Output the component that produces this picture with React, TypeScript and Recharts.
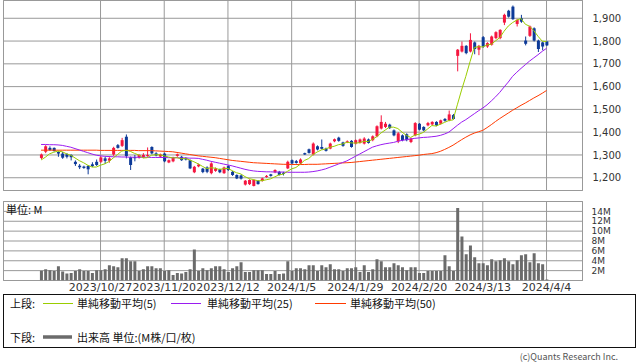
import React from 'react';
import { ComposedChart, Bar, Line, XAxis, YAxis, CartesianGrid, ReferenceArea } from 'recharts';

const tickIndex = [14, 29, 44, 59, 74, 89, 104, 119];
const tickLabels = ['2023/10/27', '2023/11/20', '2023/12/12', '2024/1/5', '2024/1/29', '2024/2/20', '2024/3/13', '2024/4/4'];

const opens = [1287,1314,1331,1331,1313,1306,1303,1300,1270,1253,1249,1252,1259,1270,1270,1285,1275,1302,1343,1340,1380,1290,1290,1288,1290,1296,1335,1307,1293,1306,1267,1272,1296,1292,1287,1277,1224,1250,1240,1245,1220,1230,1237,1220,1251,1226,1212,1210,1170,1172,1164,1186,1186,1204,1215,1224,1226,1222,1241,1277,1273,1263,1308,1325,1302,1338,1335,1328,1328,1360,1376,1355,1355,1362,1350,1353,1350,1368,1365,1382,1416,1423,1433,1408,1360,1386,1391,1357,1386,1437,1423,1430,1434,1445,1437,1458,1452,1475,1735,1754,1779,1754,1794,1762,1817,1776,1784,1813,1813,1881,1933,1951,1875,1900,1802,1823,1856,1802,1794,1798];
const highs = [1306,1343,1338,1333,1316,1313,1308,1303,1276,1260,1253,1256,1268,1280,1294,1292,1290,1336,1348,1375,1390,1293,1300,1303,1308,1333,1338,1312,1306,1310,1280,1292,1306,1296,1290,1280,1252,1262,1243,1250,1268,1245,1240,1249,1255,1230,1215,1214,1190,1193,1193,1190,1200,1212,1217,1237,1230,1226,1275,1280,1278,1285,1310,1328,1355,1342,1368,1332,1354,1372,1380,1358,1364,1365,1368,1372,1378,1372,1386,1430,1474,1445,1437,1412,1400,1390,1395,1376,1444,1440,1426,1445,1448,1448,1455,1462,1495,1480,1765,1798,1782,1834,1798,1783,1822,1795,1824,1843,1852,1920,1937,1956,1896,1915,1820,1868,1860,1806,1797,1800];
const lows = [1282,1308,1318,1315,1292,1283,1285,1276,1252,1238,1239,1215,1247,1252,1265,1260,1266,1296,1328,1335,1285,1234,1272,1284,1286,1292,1303,1294,1290,1268,1264,1268,1292,1274,1276,1238,1220,1246,1220,1220,1215,1226,1220,1217,1230,1208,1194,1192,1166,1168,1162,1170,1183,1200,1205,1220,1210,1210,1238,1260,1262,1260,1300,1306,1298,1320,1324,1315,1325,1356,1358,1336,1352,1332,1346,1350,1346,1350,1360,1378,1412,1418,1414,1382,1352,1360,1360,1352,1382,1408,1404,1426,1430,1426,1433,1446,1448,1455,1667,1750,1742,1750,1742,1738,1770,1770,1780,1808,1808,1870,1903,1893,1864,1880,1781,1818,1798,1752,1760,1778];
const closes = [1302,1338,1322,1317,1306,1288,1292,1290,1260,1246,1243,1237,1251,1256,1289,1274,1285,1331,1331,1365,1295,1256,1286,1300,1300,1300,1307,1298,1302,1272,1277,1287,1303,1277,1280,1241,1248,1258,1225,1226,1263,1240,1224,1245,1234,1212,1197,1196,1187,1190,1190,1172,1197,1208,1208,1234,1212,1217,1270,1263,1265,1280,1302,1309,1350,1324,1327,1318,1350,1369,1362,1340,1360,1335,1365,1368,1372,1353,1382,1426,1445,1437,1418,1386,1395,1365,1365,1372,1440,1411,1408,1440,1445,1430,1452,1450,1478,1458,1762,1779,1747,1805,1765,1779,1776,1791,1820,1839,1849,1915,1907,1896,1893,1885,1788,1864,1802,1765,1776,1781];
const ma5 = [1278,1290,1305,1312,1317,1314,1305,1299,1287,1275,1266,1255,1247,1247,1255,1261,1271,1287,1302,1317,1321,1316,1307,1300,1287,1288,1299,1301,1301,1296,1291,1287,1288,1283,1285,1278,1270,1261,1250,1240,1244,1242,1236,1240,1241,1231,1222,1217,1205,1196,1192,1187,1187,1191,1195,1204,1212,1216,1228,1239,1245,1259,1276,1284,1301,1313,1322,1326,1334,1338,1345,1348,1356,1353,1352,1354,1360,1359,1368,1380,1396,1409,1422,1422,1416,1400,1386,1377,1387,1391,1399,1414,1429,1427,1435,1443,1451,1454,1520,1585,1645,1710,1772,1775,1774,1783,1786,1801,1815,1843,1866,1881,1892,1899,1874,1865,1846,1821,1799,1798];
const ma25 = [1346,1346,1345,1345,1344,1342,1338,1334,1328,1322,1316,1310,1304,1299,1296,1294,1293,1292,1292,1291,1291,1290,1290,1290,1290,1290,1289,1289,1289,1289,1288,1288,1288,1287,1287,1286,1286,1285,1281,1277,1272,1268,1264,1260,1256,1252,1247,1242,1237,1233,1230,1228,1227,1226,1226,1225,1225,1225,1224,1224,1224,1224,1224,1225,1227,1230,1234,1239,1246,1253,1260,1267,1274,1284,1294,1304,1314,1324,1334,1340,1345,1349,1352,1355,1360,1364,1367,1370,1373,1375,1377,1378,1380,1382,1386,1392,1400,1415,1430,1444,1455,1468,1481,1494,1506,1520,1537,1555,1575,1598,1620,1645,1663,1680,1696,1712,1726,1740,1755,1768];
const ma50 = [1321,1321,1321,1321,1321,1321,1321,1321,1321,1321,1321,1321,1321,1321,1320,1320,1320,1320,1320,1320,1320,1320,1320,1319,1319,1319,1319,1318,1317,1316,1315,1314,1311,1308,1305,1302,1299,1296,1294,1292,1290,1288,1285,1282,1279,1276,1274,1272,1270,1268,1266,1265,1264,1263,1262,1261,1260,1259,1259,1258,1258,1258,1258,1259,1259,1259,1260,1261,1262,1263,1264,1265,1266,1267,1269,1271,1273,1275,1277,1279,1281,1283,1285,1287,1289,1291,1293,1295,1297,1299,1302,1304,1306,1310,1316,1324,1333,1343,1355,1367,1378,1388,1396,1402,1408,1420,1433,1447,1460,1472,1484,1496,1507,1518,1528,1539,1550,1560,1571,1583];
const volumes = [2.0,2.3,2.1,1.9,2.9,1.8,1.4,1.5,1.9,2.3,1.9,1.9,1.5,2.1,2.1,2.3,3.1,2.9,2.7,4.5,4.5,3.9,3.9,1.9,2.3,2.9,2.9,2.5,2.5,1.9,2.1,1.1,1.5,1.4,1.7,2.3,6.3,1.9,2.5,2.1,2.5,2.9,2.9,2.3,1.7,2.5,2.9,3.7,1.7,1.7,2.1,2.1,2.1,1.3,1.3,1.9,1.3,1.4,3.9,1.9,2.5,2.5,2.3,3.1,3.1,1.9,3.1,2.7,3.3,2.3,2.3,1.9,2.5,2.5,2.7,1.7,3.1,1.7,2.3,4.3,3.9,2.7,2.7,3.5,3.1,2.7,2.1,2.7,2.7,1.5,1.5,1.9,1.9,1.9,1.9,5.1,2.9,1.9,14.7,8.9,5.3,7.1,4.7,3.5,3.5,3.1,4.3,3.9,4.1,4.5,3.9,3.3,4.1,5.1,5.3,3.7,5.5,3.5,3.3,0.2];

const priceTicks = [1200, 1300, 1400, 1500, 1600, 1700, 1800, 1900];
const volumeTicks = [2, 4, 6, 8, 10, 12, 14];

const X_MIN = -8.84;
const X_MAX = 127.47;
const P_MIN = 1144;
const P_MAX = 1978;
const V_MAX = 16;

const RED = '#f5163f';
const BLUE = '#0d3a98';
const GRID = '#999999';
const FONT = '"DejaVu Sans", Verdana, sans-serif';
const JP = '"Noto Sans CJK JP", sans-serif';

const data = closes.map((c, i) => ({
  i,
  o: opens[i],
  h: highs[i],
  l: lows[i],
  c,
  ma5: ma5[i],
  ma25: ma25[i],
  ma50: ma50[i],
  v: volumes[i],
}));

const Candle = (props: any) => {
  const { x, y, width, height, payload } = props;
  if (!payload || height == null) return null;
  const { o, h, l, c } = payload;
  const up = c >= o;
  const color = up ? RED : BLUE;
  const ratio = h > l ? height / (h - l) : 0;
  const top = y + (h - Math.max(o, c)) * ratio;
  const bh = Math.max(1, Math.abs(o - c) * ratio);
  const cx = x + width / 2;
  return (
    <g>
      <line x1={cx} x2={cx} y1={y} y2={y + height} stroke={color} strokeWidth={1} />
      <rect x={x} y={top} width={width} height={bh} fill={color} />
    </g>
  );
};

const fmtPrice = (v: number) => v.toLocaleString('en-US');
const fmtDate = (v: number) => {
  const k = tickIndex.indexOf(v);
  return k >= 0 ? tickLabels[k] : '';
};

export default function App() {
  return (
    <div style={{ position: 'absolute', left: 0, top: 0, width: 638, height: 362, background: '#fff', overflow: 'hidden' }}>
      <div style={{ position: 'absolute', left: 0, top: 0 }}>
        <ComposedChart width={638} height={191} data={data} margin={{ top: 0.5, right: 0, left: 3.5, bottom: 0.5 }}>
          <CartesianGrid stroke={GRID} strokeWidth={1} />
          <XAxis type="number" dataKey="i" domain={[X_MIN, X_MAX]} ticks={tickIndex} allowDataOverflow hide />
          <YAxis
            orientation="right"
            width={55.5}
            domain={[P_MIN, P_MAX]}
            ticks={priceTicks}
            interval={0}
            allowDataOverflow
            axisLine={false}
            tickLine={false}
            tickSize={0}
            tickMargin={10}
            tickFormatter={fmtPrice}
            tick={{ fontSize: 10, fill: '#333', fontFamily: FONT }}
          />
          <ReferenceArea x1={X_MIN} x2={X_MAX} y1={P_MIN} y2={P_MAX} fill="none" stroke={GRID} strokeWidth={1} ifOverflow="visible" />
          <Line dataKey="ma50" stroke="#ff3a00" strokeWidth={1} dot={false} isAnimationActive={false} />
          <Line dataKey="ma25" stroke="#9a1cf0" strokeWidth={1} dot={false} isAnimationActive={false} />
          <Line dataKey="ma5" stroke="#9acd00" strokeWidth={1} dot={false} isAnimationActive={false} />
          <Bar dataKey={(d: any) => [d.l, d.h]} barSize={3} shape={<Candle />} isAnimationActive={false} />
        </ComposedChart>
      </div>
      <div style={{ position: 'absolute', left: 0, top: 191 }}>
        <ComposedChart width={638} height={109} data={data} margin={{ top: 10.5, right: 0, left: 3.5, bottom: 0 }}>
          <CartesianGrid stroke={GRID} strokeWidth={1} />
          <XAxis
            type="number"
            dataKey="i"
            domain={[X_MIN, X_MAX]}
            ticks={tickIndex}
            allowDataOverflow
            height={19.5}
            axisLine={false}
            tickLine={false}
            tickSize={0}
            tickMargin={2.5}
            tickFormatter={fmtDate}
            tick={{ fontSize: 11, fill: '#333', fontFamily: FONT }}
            interval={0}
          />
          <YAxis
            orientation="right"
            width={55.5}
            domain={[0, V_MAX]}
            ticks={volumeTicks}
            interval={0}
            allowDataOverflow
            axisLine={false}
            tickLine={false}
            tickSize={0}
            tickMargin={9}
            tickFormatter={(v: number) => `${v}M`}
            tick={{ fontSize: 9, fill: '#333', fontFamily: FONT }}
          />
          <ReferenceArea x1={X_MIN} x2={X_MAX} y1={0} y2={V_MAX} fill="none" stroke={GRID} strokeWidth={1} ifOverflow="visible" />
          <Bar dataKey="v" barSize={3} fill="#6b6b6b" isAnimationActive={false} />
        </ComposedChart>
      </div>
      <svg width={638} height={362} style={{ position: 'absolute', left: 0, top: 0, pointerEvents: 'none' }}>
        <text x={6} y={209} fontSize={11} fontFamily={JP} fill="#111" dominantBaseline="central">単位: M</text>
        <rect x={3.5} y={294.5} width={632} height={53} fill="none" stroke="#111" strokeWidth={1} />
        <g fontSize={11} fontFamily={JP} fill="#111">
          <text x={10} y={303} dominantBaseline="central">上段:</text>
          <line x1={43} x2={73} y1={303.5} y2={303.5} stroke="#9acd00" strokeWidth={1} />
          <text x={77} y={303} dominantBaseline="central">単純移動平均(5)</text>
          <line x1={171} x2={201} y1={303.5} y2={303.5} stroke="#9a1cf0" strokeWidth={1} />
          <text x={207} y={303} dominantBaseline="central">単純移動平均(25)</text>
          <line x1={315} x2={346} y1={303.5} y2={303.5} stroke="#ff3a00" strokeWidth={1} />
          <text x={350} y={303} dominantBaseline="central">単純移動平均(50)</text>
          <text x={10} y={337} dominantBaseline="central">下段:</text>
          <line x1={43} x2={72} y1={337} y2={337} stroke="#6b6b6b" strokeWidth={3.5} />
          <text x={77} y={337} dominantBaseline="central">出来高 単位:(M株/口/枚)</text>
        </g>
        <text x={618} y={356} fontSize={9} fontFamily={JP} fill="#555" textAnchor="end" dominantBaseline="central">(c)Quants Research Inc.</text>
      </svg>
    </div>
  );
}
